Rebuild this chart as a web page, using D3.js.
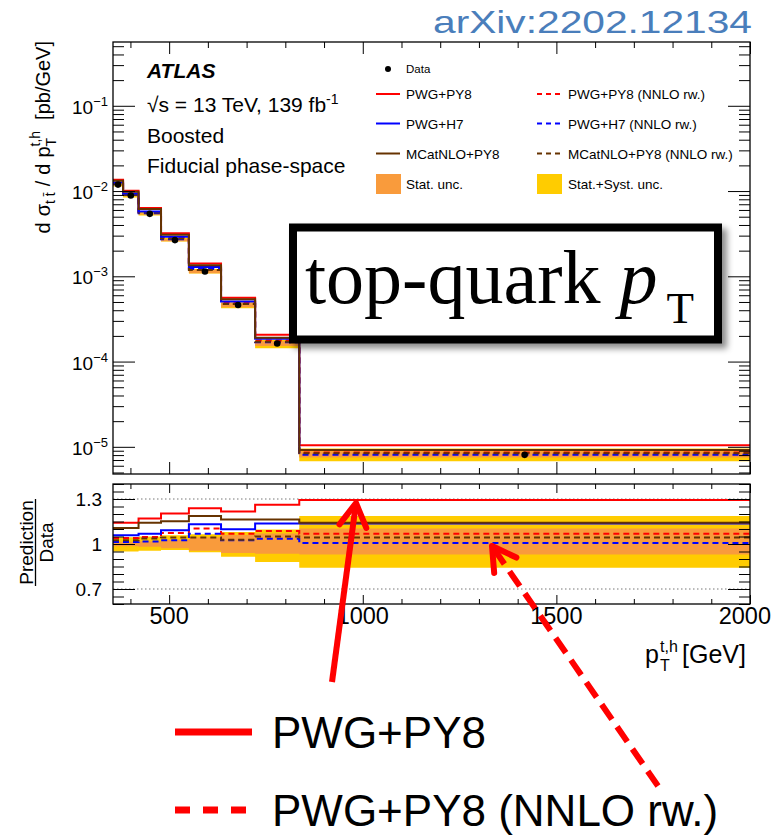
<!DOCTYPE html>
<html>
<head>
<meta charset="utf-8">
<script src="https://cdn.jsdelivr.net/npm/d3@7"></script>
<style>
body { margin: 0; background: #fff; }
svg text { font-family: "Liberation Sans", Arial, Helvetica, sans-serif; fill: #000; }
</style>
</head>
<body>
<svg id="chart" width="774" height="836"></svg>
<script>
// values
var binEdges = [355, 381, 421, 479, 551, 634, 722, 836, 2000];
var dataXsec = [0.0119, 0.00885, 0.0054, 0.00266, 0.00114, 0.000461, 0.000163, 8.05e-6];

var ratioPwgPy8 = [1.141, 1.141, 1.170, 1.204, 1.238, 1.217, 1.262, 1.293];
var ratioPwgH7 = [1.058, 1.058, 1.069, 1.092, 1.131, 1.098, 1.137, 1.137];
var ratioMcAtNlo = [1.107, 1.107, 1.141, 1.152, 1.186, 1.164, 1.164, 1.141];
var ratioPwgPy8Rw = [1.040, 1.040, 1.047, 1.074, 1.103, 1.069, 1.086, 1.069];
var ratioPwgH7Rw = [1.013, 1.013, 1.016, 1.025, 1.068, 1.025, 1.035, 1.006];
var ratioMcAtNloRw = [1.025, 1.025, 1.036, 1.043, 1.043, 1.029, 1.050, 1.043];

var statUp = [1.015, 1.015, 1.018, 1.028, 1.045, 1.060, 1.070, 1.103];
var statDown = [0.985, 0.985, 0.982, 0.972, 0.955, 0.940, 0.935, 0.930];
var systUp = [1.045, 1.045, 1.050, 1.058, 1.065, 1.080, 1.096, 1.186];
var systDown = [0.950, 0.950, 0.955, 0.960, 0.945, 0.915, 0.880, 0.841];

var xMajorTicks = [500, 1000, 1500, 2000];
var ratioMajorTicks = [0.7, 1, 1.3];
var logMajorTicks = [1e-5, 1e-4, 1e-3, 1e-2, 1e-1];

var series = [
    {name: "PWG+PY8 (NNLO rw.)", ratio: ratioPwgPy8Rw, color: "#ff0000", dashed: true},
    {name: "PWG+H7 (NNLO rw.)", ratio: ratioPwgH7Rw, color: "#0000ff", dashed: true},
    {name: "MCatNLO+PY8 (NNLO rw.)", ratio: ratioMcAtNloRw, color: "#663300", dashed: true},
    {name: "PWG+PY8", ratio: ratioPwgPy8, color: "#ff0000", dashed: false},
    {name: "PWG+H7", ratio: ratioPwgH7, color: "#0000ff", dashed: false},
    {name: "MCatNLO+PY8", ratio: ratioMcAtNlo, color: "#663300", dashed: false}
];
var statColor = "#f99b3c";
var systColor = "#ffcc00";

var svg = d3.select("#chart");
var x = d3.scaleLinear().domain([355, 2000]).range([113, 750]);
var yTop = d3.scaleLog().domain([4.8e-6, 0.56]).range([474, 42]);
var yRatio = d3.scaleLinear().domain([0.6, 1.4]).range([604, 484]);

var defs = svg.append("defs");
defs.append("clipPath").attr("id", "clipTop").append("rect").attr("x", 113).attr("y", 42).attr("width", 637).attr("height", 432);
defs.append("clipPath").attr("id", "clipRatio").append("rect").attr("x", 113).attr("y", 484).attr("width", 637).attr("height", 120);
defs.append("filter").attr("id", "shadow").attr("x", "-10%").attr("y", "-10%").attr("width", "130%").attr("height", "140%")
    .append("feDropShadow").attr("dx", 5).attr("dy", 5).attr("stdDeviation", 3).attr("flood-color", "#000").attr("flood-opacity", 0.45);

function stepPoints(vals) {
    return binEdges.map(function(e, i) { return [e, vals[Math.min(i, vals.length - 1)]]; });
}
function bandPoints(lo, hi) {
    return binEdges.map(function(e, i) { var k = Math.min(i, lo.length - 1); return [e, lo[k], hi[k]]; });
}
function times(r) {
    return dataXsec.map(function(d, i) { return d * r[i]; });
}

function drawPanel(g, yS, useRatio) {
    var line = d3.line().x(function(d) { return x(d[0]); }).y(function(d) { return yS(d[1]); }).curve(d3.curveStepAfter);
    var area = d3.area().x(function(d) { return x(d[0]); }).y0(function(d) { return yS(d[1]); }).y1(function(d) { return yS(d[2]); }).curve(d3.curveStepAfter);
    var sd = useRatio ? systDown : times(systDown);
    var su = useRatio ? systUp : times(systUp);
    var td = useRatio ? statDown : times(statDown);
    var tu = useRatio ? statUp : times(statUp);
    g.append("path").attr("d", area(bandPoints(sd, su))).attr("fill", systColor);
    g.append("path").attr("d", area(bandPoints(td, tu))).attr("fill", statColor);
    for (var i = 0; i < series.length; i++) {
        var s = series[i];
        var vals = useRatio ? s.ratio : times(s.ratio);
        g.append("path").attr("d", line(stepPoints(vals))).attr("fill", "none").attr("stroke", s.color)
            .attr("stroke-width", 2).attr("stroke-dasharray", s.dashed ? "6,4" : null);
    }
}

// upper panel
var topPanel = svg.append("g").attr("clip-path", "url(#clipTop)");
drawPanel(topPanel, yTop, false);
topPanel.selectAll("circle.data").data(dataXsec).enter().append("circle").attr("class", "data")
    .attr("cx", function(d, i) { return x((binEdges[i] + binEdges[i + 1]) / 2); })
    .attr("cy", function(d) { return yTop(d); }).attr("r", 3.3).attr("fill", "#000");

// ratio panel
var ratioPanel = svg.append("g").attr("clip-path", "url(#clipRatio)");
ratioPanel.selectAll("line.ref").data([0.7, 1.3]).enter().append("line").attr("class", "ref")
    .attr("x1", 113).attr("x2", 750).attr("y1", function(d) { return yRatio(d); }).attr("y2", function(d) { return yRatio(d); })
    .attr("stroke", "#777").attr("stroke-width", 1).attr("stroke-dasharray", "1.5,2.5");
drawPanel(ratioPanel, yRatio, true);

// axes and frames
var logMinor = [];
for (var k = -6; k <= 0; k++) {
    for (var m = 2; m <= 9; m++) {
        var v = m * Math.pow(10, k);
        if (v > 4.8e-6 && v < 0.56) logMinor.push(v);
    }
}
var xMinor = d3.range(400, 2000, 100).filter(function(v) { return xMajorTicks.indexOf(v) < 0; });
var ratioMinor = d3.range(0.6, 1.41, 0.05).filter(function(v) { return !ratioMajorTicks.some(function(t) { return Math.abs(t - v) < 1e-6; }); });

function ticks(axis, tx, ty) {
    var g = svg.append("g").attr("transform", "translate(" + tx + "," + ty + ")").call(axis.tickFormat(""));
    g.select(".domain").remove();
    g.selectAll(".tick line").attr("stroke", "#000").attr("stroke-width", 1);
}
ticks(d3.axisLeft(yTop).tickValues(logMajorTicks).tickSize(-22), 113, 0);
ticks(d3.axisLeft(yTop).tickValues(logMinor).tickSize(-11), 113, 0);
ticks(d3.axisRight(yTop).tickValues(logMajorTicks).tickSize(-22), 750, 0);
ticks(d3.axisRight(yTop).tickValues(logMinor).tickSize(-11), 750, 0);
ticks(d3.axisTop(x).tickValues(xMajorTicks).tickSize(-12), 0, 42);
ticks(d3.axisTop(x).tickValues(xMinor).tickSize(-6), 0, 42);
ticks(d3.axisBottom(x).tickValues(xMajorTicks).tickSize(-12), 0, 474);
ticks(d3.axisBottom(x).tickValues(xMinor).tickSize(-6), 0, 474);

ticks(d3.axisLeft(yRatio).tickValues(ratioMajorTicks).tickSize(-22), 113, 0);
ticks(d3.axisLeft(yRatio).tickValues(ratioMinor).tickSize(-11), 113, 0);
ticks(d3.axisRight(yRatio).tickValues(ratioMajorTicks).tickSize(-22), 750, 0);
ticks(d3.axisRight(yRatio).tickValues(ratioMinor).tickSize(-11), 750, 0);
ticks(d3.axisTop(x).tickValues(xMajorTicks).tickSize(-9), 0, 484);
ticks(d3.axisTop(x).tickValues(xMinor).tickSize(-5), 0, 484);
ticks(d3.axisBottom(x).tickValues(xMajorTicks).tickSize(-9), 0, 604);
ticks(d3.axisBottom(x).tickValues(xMinor).tickSize(-5), 0, 604);

svg.append("rect").attr("x", 113).attr("y", 42).attr("width", 637).attr("height", 432).attr("fill", "none").attr("stroke", "#000").attr("stroke-width", 1.3);
svg.append("rect").attr("x", 113).attr("y", 484).attr("width", 637).attr("height", 120).attr("fill", "none").attr("stroke", "#000").attr("stroke-width", 1.3);

// tick labels
var logLabels = svg.selectAll("text.loglab").data(logMajorTicks).enter().append("text").attr("class", "loglab")
    .attr("x", 108).attr("y", function(d) { return yTop(d) + 8; }).attr("text-anchor", "end").style("font-size", "19px");
logLabels.append("tspan").text("10");
logLabels.append("tspan").attr("dy", -8).style("font-size", "13px").text(function(d) { return "\u2212" + Math.round(-Math.log10(d)); });

svg.selectAll("text.rlab").data(ratioMajorTicks).enter().append("text").attr("class", "rlab")
    .attr("x", 102).attr("y", function(d) { return yRatio(d) + 7; }).attr("text-anchor", "end").style("font-size", "19px")
    .text(function(d) { return d3.format("~g")(d); });

svg.selectAll("text.xlab").data(xMajorTicks).enter().append("text").attr("class", "xlab")
    .attr("x", function(d) { return d === 2000 ? 771 : x(d); }).attr("y", 624)
    .attr("text-anchor", function(d) { return d === 2000 ? "end" : "middle"; }).style("font-size", "23.5px")
    .text(function(d) { return d; });

// axis titles
var xt = svg.append("text").attr("x", 645).attr("y", 663).style("font-size", "25px");
xt.append("tspan").text("p");
xt.append("tspan").attr("x", 660).attr("dy", -11).style("font-size", "16px").text("t,h");
xt.append("tspan").attr("x", 660).attr("dy", 19).style("font-size", "16px").text("T");
xt.append("tspan").attr("x", 682).attr("dy", -8).text("[GeV]");

var yt = svg.append("text").attr("transform", "translate(50,41) rotate(-90)").attr("text-anchor", "end").style("font-size", "20px");
yt.append("tspan").text("d");
yt.append("tspan").attr("dx", 6).text("\u03c3");
yt.append("tspan").attr("dy", 5).style("font-size", "14px").text("t t\u0304");
yt.append("tspan").attr("dx", 6).attr("dy", -5).text("/");
yt.append("tspan").attr("dx", 6).text("d");
yt.append("tspan").attr("dx", 6).text("p");
yt.append("tspan").attr("dy", -10).style("font-size", "14px").text("t,h");
yt.append("tspan").attr("dx", -15.6).attr("dy", 16).style("font-size", "14px").text("T");
yt.append("tspan").attr("dx", 18).attr("dy", -6).text("[pb/GeV]");

svg.append("text").attr("transform", "translate(33,542.5) rotate(-90)").attr("text-anchor", "middle").style("font-size", "19px").text("Prediction");
svg.append("line").attr("x1", 35.5).attr("x2", 35.5).attr("y1", 499).attr("y2", 586).attr("stroke", "#000").attr("stroke-width", 1.3);
svg.append("text").attr("transform", "translate(53,542.5) rotate(-90)").attr("text-anchor", "middle").style("font-size", "19px").text("Data");

// ATLAS label
svg.append("text").attr("x", 147).attr("y", 77.5).style("font-size", "21px").style("font-weight", "bold").style("font-style", "italic").text("ATLAS");
var lumi = svg.append("text").attr("x", 147).attr("y", 111.5).style("font-size", "21px");
lumi.append("tspan").text("\u221as = 13 TeV, 139 fb");
lumi.append("tspan").attr("dy", -8).style("font-size", "14px").text("-1");
svg.append("text").attr("x", 147).attr("y", 143).style("font-size", "21px").text("Boosted");
svg.append("text").attr("x", 147).attr("y", 173).style("font-size", "21px").text("Fiducial phase-space");

// legend
var leg = svg.append("g");
leg.append("circle").attr("cx", 388).attr("cy", 69).attr("r", 3).attr("fill", "#000");
leg.append("text").attr("x", 406).attr("y", 73).style("font-size", "11.5px").text("Data");
var legRows = [94, 123.5, 153.5];
series.forEach(function(s, i) {
    var col = s.dashed ? 1 : 0;
    var row = i % 3;
    var lx = col ? 537 : 376;
    leg.append("line").attr("x1", lx).attr("x2", lx + 24).attr("y1", legRows[row]).attr("y2", legRows[row])
        .attr("stroke", s.color).attr("stroke-width", 2).attr("stroke-dasharray", s.dashed ? "5,4" : null);
    leg.append("text").attr("x", lx + (col ? 31 : 30)).attr("y", legRows[row] + 5).style("font-size", "13.5px").text(s.name);
});
leg.append("rect").attr("x", 376).attr("y", 174).attr("width", 25).attr("height", 20).attr("fill", statColor);
leg.append("text").attr("x", 406).attr("y", 189).style("font-size", "13.5px").text("Stat. unc.");
leg.append("rect").attr("x", 537).attr("y", 174).attr("width", 25).attr("height", 20).attr("fill", systColor);
leg.append("text").attr("x", 568).attr("y", 189).style("font-size", "13.5px").text("Stat.+Syst. unc.");

// annotations
svg.append("text").attr("x", 433).attr("y", 33).attr("textLength", 319).attr("lengthAdjust", "spacingAndGlyphs")
    .style("font-size", "32px").style("fill", "#4a7ebb").text("arXiv:2202.12134");

var box = svg.append("g");
box.append("rect").attr("x", 293).attr("y", 227.5).attr("width", 425).attr("height", 112)
    .attr("fill", "#fff").attr("stroke", "#000").attr("stroke-width", 8).attr("filter", "url(#shadow)");
var bt = box.append("text").attr("x", 305).attr("y", 303).style("font-family", "'Liberation Serif', 'Times New Roman', serif").style("font-size", "76px");
bt.append("tspan").text("top-quark ");
bt.append("tspan").style("font-style", "italic").text("p");
bt.append("tspan").attr("dx", 9).attr("dy", 20).style("font-size", "45px").text("T");

function arrowHead(g, tail, tip, len, dashed) {
    var dx = tip[0] - tail[0], dy = tip[1] - tail[1];
    var L = Math.sqrt(dx * dx + dy * dy);
    var ux = dx / L, uy = dy / L;
    var a = Math.PI / 6;
    var p1 = [tip[0] - len * (ux * Math.cos(a) - uy * Math.sin(a)), tip[1] - len * (uy * Math.cos(a) + ux * Math.sin(a))];
    var p2 = [tip[0] - len * (ux * Math.cos(a) + uy * Math.sin(a)), tip[1] - len * (uy * Math.cos(a) - ux * Math.sin(a))];
    g.append("line").attr("x1", tail[0]).attr("y1", tail[1]).attr("x2", tip[0] - ux * 3).attr("y2", tip[1] - uy * 3)
        .attr("stroke", "#ff0000").attr("stroke-width", 6).attr("stroke-dasharray", dashed ? "18,9" : null);
    g.append("path").attr("d", "M" + p1 + "L" + tip + "L" + p2).attr("fill", "none")
        .attr("stroke", "#ff0000").attr("stroke-width", 6).attr("stroke-linecap", "round").attr("stroke-linejoin", "round");
}
var arrows = svg.append("g");
arrowHead(arrows, [332, 682], [356, 503], 27, false);
arrowHead(arrows, [658, 786], [492, 546], 27, true);

var bl = svg.append("g");
bl.append("line").attr("x1", 175).attr("x2", 252).attr("y1", 732).attr("y2", 732).attr("stroke", "#ff0000").attr("stroke-width", 7);
bl.append("text").attr("x", 272).attr("y", 748).style("font-size", "44px").text("PWG+PY8");
bl.append("line").attr("x1", 175).attr("x2", 257).attr("y1", 810).attr("y2", 810).attr("stroke", "#ff0000").attr("stroke-width", 7).attr("stroke-dasharray", "15,13");
bl.append("text").attr("x", 272).attr("y", 826).style("font-size", "44px").text("PWG+PY8 (NNLO rw.)");
</script>
</body>
</html>
